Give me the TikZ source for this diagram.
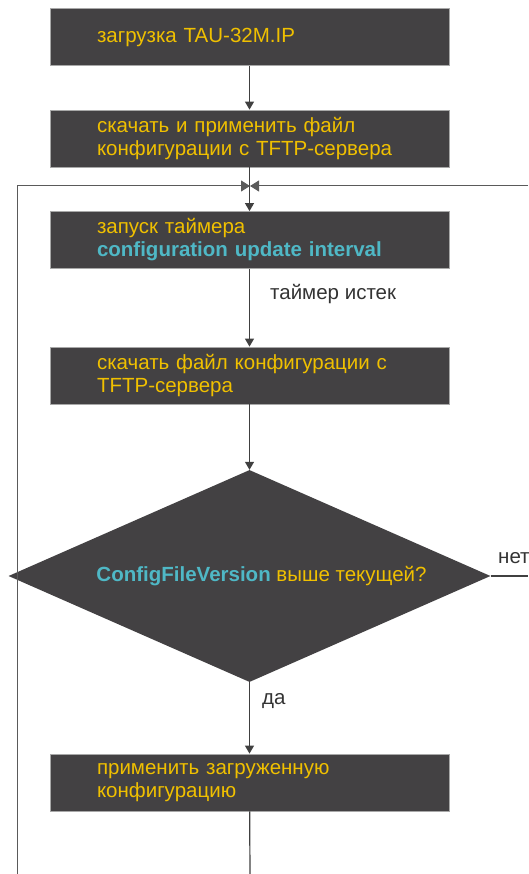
\documentclass[tikz,border=0pt]{standalone}
\usepackage{fontspec}
\setmainfont{Liberation Sans}
\usetikzlibrary{arrows.meta,shapes.geometric}

\definecolor{boxfill}{HTML}{434143}
\definecolor{boxline}{HTML}{A8A8A8}
\definecolor{txtyellow}{HTML}{F0C000}
\definecolor{txtcyan}{HTML}{4FB8C6}
\definecolor{flowline}{HTML}{404040}
\definecolor{loopline}{HTML}{5A5A5A}
\definecolor{notetext}{HTML}{333333}

\tikzset{
  stepbox/.style={draw=boxline, line width=0.8pt, fill=boxfill, text=txtyellow,
    minimum width=399pt, minimum height=57pt, inner xsep=47pt, inner ysep=0pt,
    text width=305pt, align=left, font=\fontsize{20.5}{23}\selectfont},
  checkbox/.style={diamond, fill=boxfill, text=txtyellow, inner sep=0pt,
    minimum width=482pt, minimum height=212pt, aspect=2.27,
    font=\fontsize{20.5}{23}\selectfont},
  flow/.style={draw=flowline, line width=1.2pt, -{Triangle[length=8pt,width=9pt]}},
  loop/.style={draw=loopline, line width=1pt},
  note/.style={text=notetext, inner sep=0pt, anchor=west, font=\fontsize{20.5}{23}\selectfont},
}

\begin{document}
\begin{tikzpicture}[x=1pt, y=-1pt, line cap=butt, line join=miter]
  \useasboundingbox (0,0) rectangle (528,874);
  % the boxes, top to bottom
  \node[stepbox] (load) at (249.5,37) {загрузка TAU-32M.IP};
  \node[stepbox] (fetchapply) at (249.5,138.5) {скачать и применить файл\\конфигурации с TFTP-сервера};
  \node[stepbox] (timer) at (249.5,240) {запуск таймера\\{\bfseries\color{txtcyan}configuration update interval}};
  \node[stepbox] (fetch) at (249.5,375.5) {скачать файл конфигурации с\\TFTP-сервера};
  \node[checkbox] (check) at (249.5,576) {\hspace*{24pt}{\bfseries\color{txtcyan}ConfigFileVersion} выше текущей?};
  \node[stepbox] (apply) at (249.5,782.5) {применить загруженную\\конфигурацию};
  % ends that run out of the picture
  \coordinate (merge) at (250,186);
  \coordinate (leftin) at (17,874);
  \coordinate (rightin) at (528,186);
  \coordinate (noout) at (528,576);
  \coordinate (applyout) at (250,874);
  % main flow
  \draw[flow] (load) -- (fetchapply);
  \draw[flow] (fetchapply) -- (timer);
  \draw[flow] (timer) -- (fetch);
  \draw[flow] (fetch) -- (check);
  \draw[flow] (check) -- (apply);
  \draw[flowline, line width=1.2pt] (apply) -- (applyout);
  \draw[flowline, line width=1.2pt] (check.east) -- (noout);
  % the two returns into the timer
  \draw[loop, -{Triangle[length=9pt,width=11pt]}] (leftin) |- (merge);
  \draw[loop, -{Triangle[length=9pt,width=11pt]}] (rightin) -- (merge);
  % labels
  \node[note] (expired) at (270,294) {таймер истек};
  \node[note] (yes) at (262,701) {да};
  \node[note] (no) at (498,558) {нет};
\end{tikzpicture}
\end{document}
